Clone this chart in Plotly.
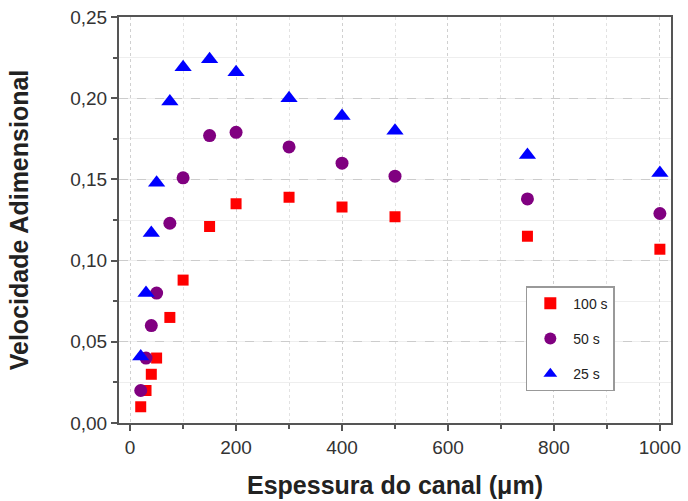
import plotly.graph_objects as go

x_100 = [20, 30, 40, 50, 75, 100, 150, 200, 300, 400, 500, 750, 1000]
y_100 = [0.010, 0.020, 0.030, 0.040, 0.065, 0.088, 0.121, 0.135, 0.139, 0.133, 0.127, 0.115, 0.107]

x_50 = [20, 30, 40, 50, 75, 100, 150, 200, 300, 400, 500, 750, 1000]
y_50 = [0.020, 0.040, 0.060, 0.080, 0.123, 0.151, 0.177, 0.179, 0.170, 0.160, 0.152, 0.138, 0.129]

x_25 = [20, 30, 40, 50, 75, 100, 150, 200, 300, 400, 500, 750, 1000]
y_25 = [0.041, 0.080, 0.117, 0.148, 0.198, 0.219, 0.224, 0.216, 0.200, 0.189, 0.180, 0.165, 0.154]

names = ["100 s", "50 s", "25 s"]
x_ticks = [0, 200, 400, 600, 800, 1000]
y_ticks = [0.00, 0.05, 0.10, 0.15, 0.20, 0.25]
y_tick_labels = ["0,00", "0,05", "0,10", "0,15", "0,20", "0,25"]

fig = go.Figure()
fig.add_trace(go.Scatter(x=x_100, y=y_100, mode="markers", name=names[0], legendgroup="a",
                         marker=dict(symbol="square", size=11, color="#ff0000")))
fig.add_trace(go.Scatter(x=x_50, y=y_50, mode="markers", name=names[1], legendgroup="b",
                         marker=dict(symbol="circle", size=13, color="#800080")))
fig.add_trace(go.Scatter(x=x_25, y=y_25, mode="markers", name=names[2], legendgroup="c",
                         marker=dict(symbol="triangle-up", size=15, color="#0000ff")))

axis_font = dict(family="Liberation Sans, Arial, sans-serif", size=19, color="#333333")
title_font = dict(family="Liberation Sans, Arial, sans-serif", size=25, color="#222222")

fig.update_layout(
    width=688, height=501,
    margin=dict(l=119, r=17, t=17, b=78),
    paper_bgcolor="white", plot_bgcolor="white",
    showlegend=True,
    legend=dict(x=0.737, y=0.337, xanchor="left", yanchor="top",
                bordercolor="#999999", borderwidth=1.5, bgcolor="white",
                font=dict(family="Liberation Sans, Arial, sans-serif", size=14, color="#222222"),
                itemsizing="constant", tracegroupgap=14, itemwidth=36,
                entrywidth=90, entrywidthmode="pixels",
                traceorder="grouped"),
    xaxis=dict(
        range=[-21, 1021], tickvals=x_ticks, ticks="outside", ticklen=6, tickwidth=2,
        tickcolor="#555555", showline=True, linecolor="#555555", linewidth=2, mirror=True,
        showgrid=True, gridcolor="#d0d0d0", griddash="dot", gridwidth=1,
        zeroline=False, tickfont=axis_font, automargin=False,
        title=dict(text="<b>Espessura do canal (μm)</b>", font=title_font, standoff=20),
        minor=dict(dtick=100, tick0=0, ticks="outside", ticklen=4, tickwidth=2, tickcolor="#555555",
                   showgrid=True, gridcolor="#e2e2e2", griddash="dot"),
    ),
    yaxis=dict(
        range=[0, 0.25], tickvals=y_ticks, ticktext=y_tick_labels, ticks="outside", ticklen=6,
        tickwidth=2, tickcolor="#555555", showline=True, linecolor="#555555", linewidth=2,
        mirror=True, showgrid=True, gridcolor="#cccccc", griddash="dash", gridwidth=1,
        zeroline=False, tickfont=axis_font, automargin=False,
        title=dict(text="<b>Velocidade Adimensional</b>", font=title_font, standoff=34),
        minor=dict(dtick=0.025, tick0=0, ticks="outside", ticklen=4, tickwidth=2, tickcolor="#555555",
                   showgrid=True, gridcolor="#eeeeee", griddash="solid"),
    ),
)

fig.write_html("out.html")
